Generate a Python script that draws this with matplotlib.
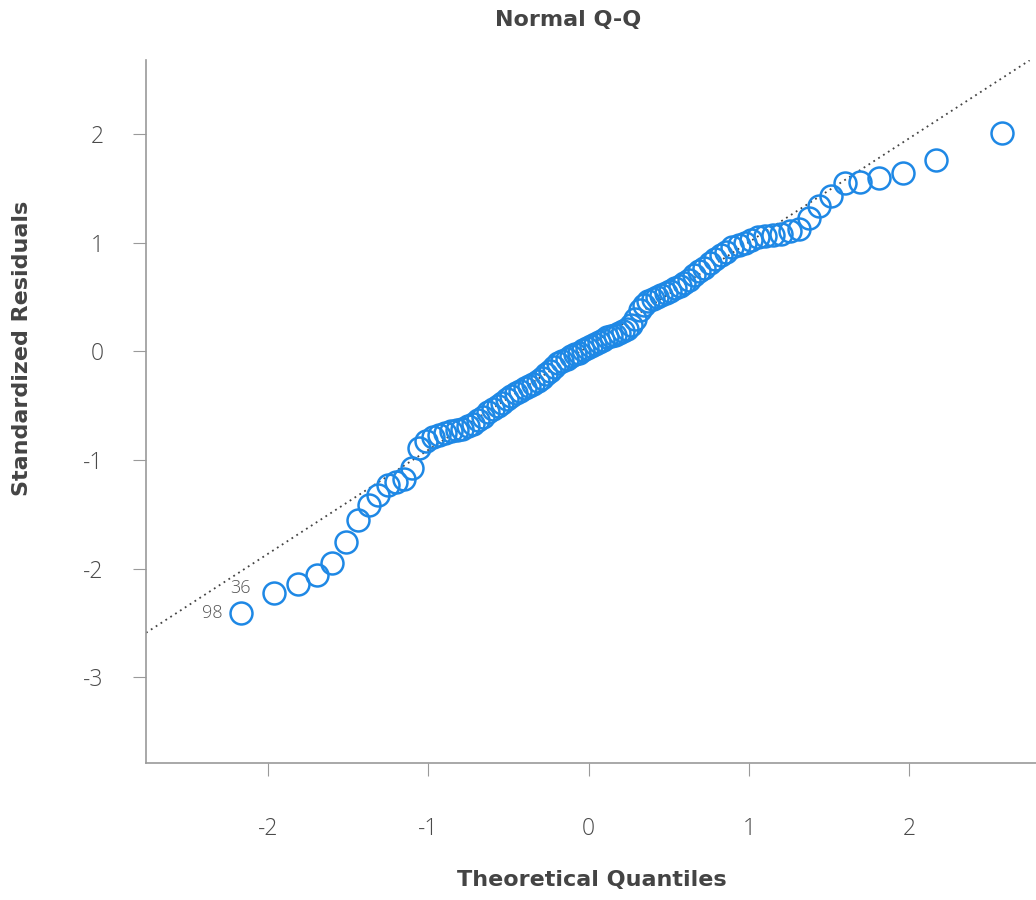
import matplotlib
matplotlib.use("Agg")
import matplotlib.pyplot as plt

# Theoretical quantiles (x) and sorted standardized residuals (y)
theoretical = [
    -2.170, -1.960, -1.812, -1.695, -1.598, -1.514, -1.440, -1.372, -1.311, -1.254,
    -1.200, -1.150, -1.103, -1.058, -1.015, -0.974, -0.935, -0.896, -0.860, -0.824,
    -0.789, -0.755, -0.722, -0.690, -0.659, -0.628, -0.598, -0.568, -0.539, -0.510,
    -0.482, -0.454, -0.426, -0.399, -0.372, -0.345, -0.319, -0.292, -0.266, -0.240,
    -0.215, -0.189, -0.164, -0.138, -0.113, -0.088, -0.063, -0.038, -0.0125, 0.0125,
    0.038, 0.063, 0.088, 0.113, 0.138, 0.164, 0.189, 0.215, 0.240, 0.266,
    0.292, 0.319, 0.345, 0.372, 0.399, 0.426, 0.454, 0.482, 0.510, 0.539,
    0.568, 0.598, 0.628, 0.659, 0.690, 0.722, 0.755, 0.789, 0.824, 0.860,
    0.896, 0.935, 0.974, 1.015, 1.058, 1.103, 1.150, 1.200, 1.254, 1.311,
    1.372, 1.440, 1.514, 1.598, 1.695, 1.812, 1.960, 2.170, 2.576,
]
residuals = [
    -2.41, -2.22, -2.14, -2.06, -1.95, -1.75, -1.55, -1.41, -1.32, -1.23,
    -1.20, -1.17, -1.07, -0.89, -0.82, -0.79, -0.77, -0.75, -0.73, -0.72,
    -0.71, -0.69, -0.67, -0.63, -0.60, -0.56, -0.53, -0.50, -0.47, -0.44,
    -0.41, -0.38, -0.36, -0.34, -0.32, -0.30, -0.27, -0.24, -0.21, -0.18,
    -0.14, -0.11, -0.09, -0.07, -0.04, -0.02, -0.01, 0.01, 0.03, 0.05,
    0.07, 0.09, 0.11, 0.13, 0.14, 0.15, 0.17, 0.19, 0.21, 0.24,
    0.30, 0.38, 0.43, 0.46, 0.48, 0.50, 0.52, 0.54, 0.56, 0.58,
    0.60, 0.63, 0.66, 0.70, 0.74, 0.77, 0.81, 0.85, 0.89, 0.92,
    0.96, 0.98, 1.00, 1.03, 1.05, 1.06, 1.07, 1.08, 1.11, 1.13,
    1.23, 1.34, 1.43, 1.55, 1.56, 1.60, 1.64, 1.76, 2.01,
]
# labelled observations: (label, index into the arrays above)
labels = ["98", "36"]
label_idx = [0, 1]

qq_intercept = 0.05
qq_slope = 0.956

xticks = [-2, -1, 0, 1, 2]
yticks = [-3, -2, -1, 0, 1, 2]

FONT = ["Open Sans", "DejaVu Sans"]
plt.rcParams["font.family"] = FONT

fig = plt.figure(figsize=(10.36, 9.0), dpi=100)
ax = fig.add_axes([0.141, 0.152, 0.859, 0.781])

ax.axline((0, qq_intercept), slope=qq_slope, color="#444444", linestyle=(0, (1, 2.2)),
          linewidth=1.3, zorder=1)
ax.plot(theoretical, residuals, linestyle="none", marker="o", markersize=15.8,
        markerfacecolor="none", markeredgecolor="#1E88E5", markeredgewidth=1.8, zorder=2)

offsets = [(-13, 0), (-17, 3)]
for lab, i, off in zip(labels, label_idx, offsets):
    ax.annotate(lab, (theoretical[i], residuals[i]), xytext=off, textcoords="offset points",
                ha="right", va="center", fontsize=13, color="#555555", fontweight="light")

ax.set_xlim(-2.761, 2.791)
ax.set_ylim(-3.79, 2.68)
ax.set_xticks(xticks)
ax.set_yticks(yticks)
ax.set_xticklabels([str(t) for t in xticks])
ax.set_yticklabels([str(t) for t in yticks])

for s in ["top", "right"]:
    ax.spines[s].set_visible(False)
for s in ["left", "bottom"]:
    ax.spines[s].set_color("#9a9a9a")
    ax.spines[s].set_linewidth(1.2)

ax.tick_params(axis="both", direction="out", length=9.5, width=0.8, color="#9a9a9a",
               labelsize=16.5, labelcolor="#4a4a4a")
ax.tick_params(axis="x", pad=29)
ax.tick_params(axis="y", pad=21)
for t in ax.get_xticklabels() + ax.get_yticklabels():
    t.set_fontweight("light")

LABEL_FONT = ["DejaVu Sans"]
fig.text(568 / 1036, 1 - 20 / 900, "Normal Q-Q", ha="center", va="center",
         fontsize=16, fontweight="bold", color="#444444", family=LABEL_FONT)
fig.text(592 / 1036, 1 - 880 / 900, "Theoretical Quantiles", ha="center", va="center",
         fontsize=16, fontweight="bold", color="#444444", family=LABEL_FONT)
fig.text(22 / 1036, 1 - 348 / 900, "Standardized Residuals", ha="center", va="center",
         rotation=90, fontsize=16, fontweight="bold", color="#444444", family=LABEL_FONT)

fig.savefig("out.png", dpi=100)
